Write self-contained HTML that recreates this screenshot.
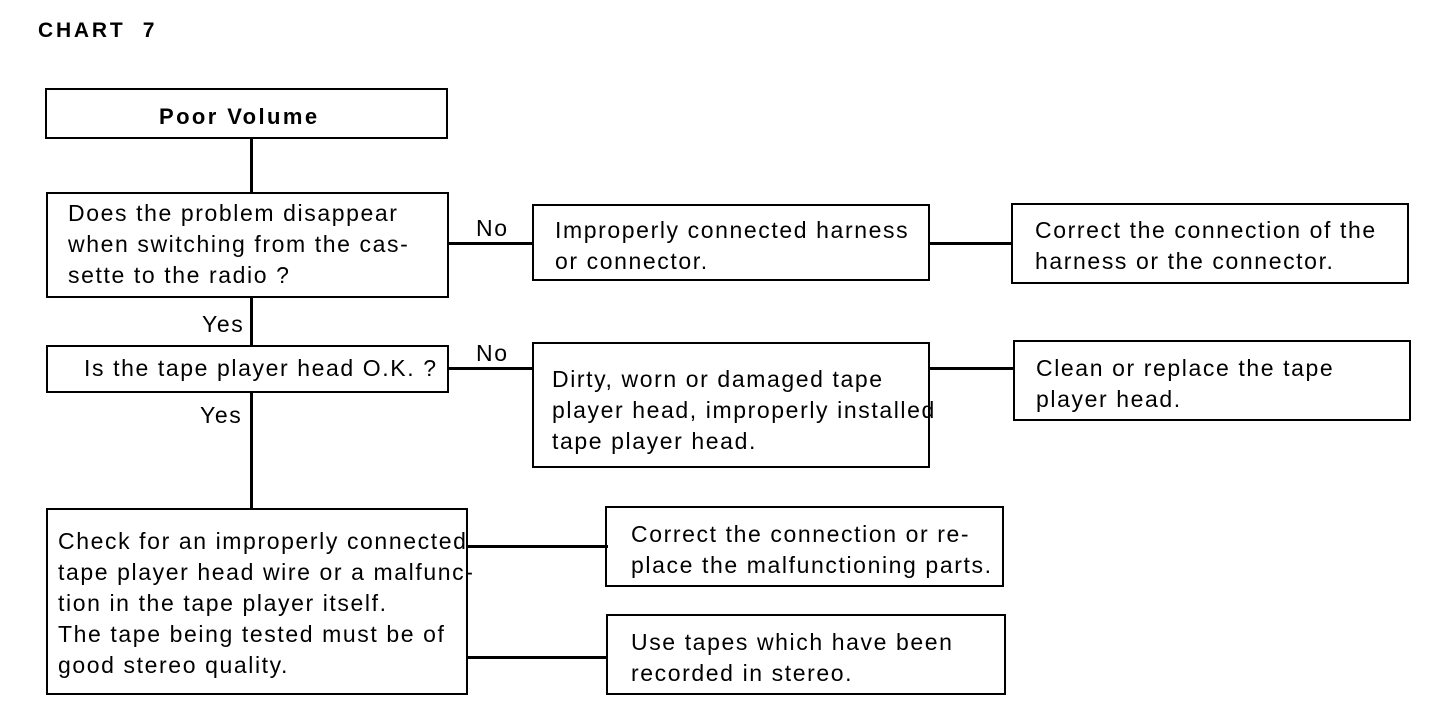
<!DOCTYPE html>
<html><head><meta charset="utf-8"><style>
body{margin:0;background:#fff;width:1440px;height:710px;position:relative;overflow:hidden;font-family:"Liberation Sans",Arial,sans-serif;color:#000}
.b{position:absolute;border:2.5px solid #000;box-sizing:border-box}
.t{position:absolute;font-size:23px;line-height:31px;white-space:nowrap;letter-spacing:1.6px}
.h{position:absolute;height:2.5px;background:#000}
.v{position:absolute;width:2.5px;background:#000}
</style></head><body>
<div class="t" style="left:38px;top:15px;font-weight:bold;font-size:21px;letter-spacing:2.8px">CHART&nbsp;&nbsp;7</div>

<div class="b" style="left:45px;top:88px;width:403px;height:51px"></div>
<div class="t" style="left:159px;top:101px;font-weight:bold;font-size:22px;letter-spacing:2.4px">Poor Volume</div>
<div class="v" style="left:250px;top:138px;height:56px"></div>

<div class="b" style="left:46px;top:192px;width:403px;height:106px"></div>
<div class="t" style="left:68px;top:198px">Does the problem disappear<br>when switching from the cas-<br>sette to the radio ?</div>
<div class="h" style="left:448px;top:242px;width:86px"></div>
<div class="t" style="left:476px;top:213px">No</div>

<div class="b" style="left:532px;top:204px;width:398px;height:77px"></div>
<div class="t" style="left:555px;top:215px">Improperly connected harness<br>or connector.</div>
<div class="h" style="left:929px;top:242px;width:84px"></div>
<div class="b" style="left:1011px;top:203px;width:398px;height:81px"></div>
<div class="t" style="left:1035px;top:215px">Correct the connection of the<br>harness or the connector.</div>

<div class="v" style="left:250px;top:297px;height:50px"></div>
<div class="t" style="left:202px;top:309px">Yes</div>

<div class="b" style="left:46px;top:345px;width:403px;height:48px"></div>
<div class="t" style="left:84px;top:353px">Is the tape player head O.K. ?</div>
<div class="h" style="left:448px;top:367px;width:86px"></div>
<div class="t" style="left:476px;top:338px">No</div>

<div class="b" style="left:532px;top:342px;width:398px;height:126px"></div>
<div class="t" style="left:552px;top:364px">Dirty, worn or damaged tape<br>player head, improperly installed<br>tape player head.</div>
<div class="h" style="left:929px;top:367px;width:86px"></div>
<div class="b" style="left:1013px;top:340px;width:398px;height:81px"></div>
<div class="t" style="left:1036px;top:353px">Clean or replace the tape<br>player head.</div>

<div class="v" style="left:250px;top:392px;height:118px"></div>
<div class="t" style="left:200px;top:400px">Yes</div>

<div class="b" style="left:46px;top:508px;width:422px;height:187px"></div>
<div class="t" style="left:58px;top:526px">Check for an improperly connected<br>tape player head wire or a malfunc-<br>tion in the tape player itself.<br>The tape being tested must be of<br>good stereo quality.</div>
<div class="h" style="left:467px;top:545px;width:141px"></div>
<div class="h" style="left:467px;top:656px;width:141px"></div>

<div class="b" style="left:605px;top:506px;width:399px;height:81px"></div>
<div class="t" style="left:631px;top:519px">Correct the connection or re-<br>place the malfunctioning parts.</div>
<div class="b" style="left:606px;top:614px;width:400px;height:81px"></div>
<div class="t" style="left:631px;top:627px">Use tapes which have been<br>recorded in stereo.</div>
</body></html>
